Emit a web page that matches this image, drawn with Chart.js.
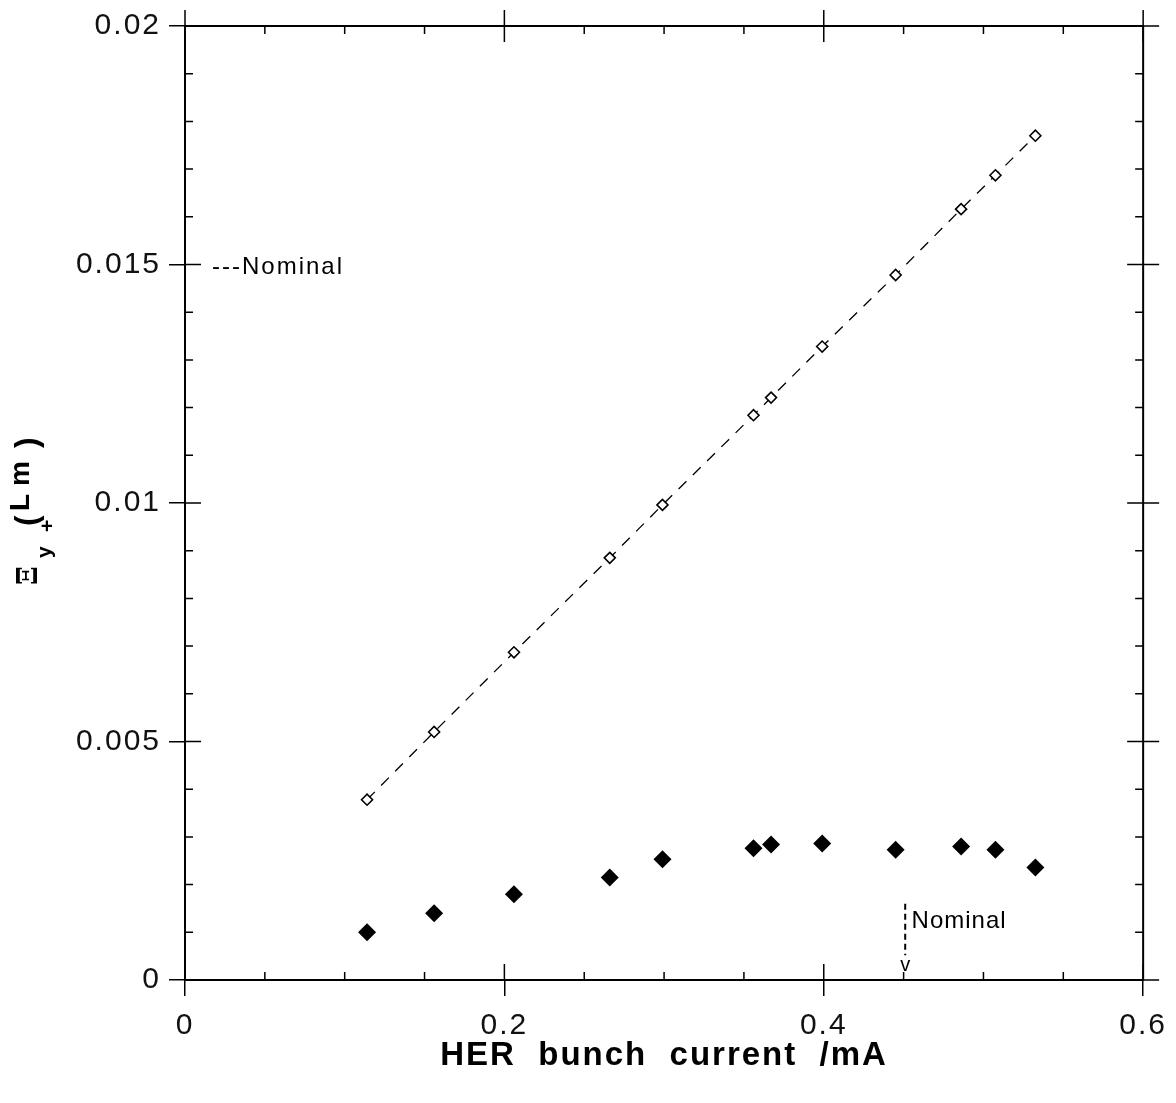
<!DOCTYPE html>
<html><head><meta charset="utf-8">
<script src="https://cdn.jsdelivr.net/npm/chart.js@4.4.0/dist/chart.umd.min.js"></script>
<style>html,body{margin:0;padding:0;background:#fff;}</style>
</head><body>
<canvas id="c" width="1176" height="1103"></canvas>
<script>
// ---- data ----
const currents = [0.114, 0.156, 0.206, 0.266, 0.299, 0.356, 0.367, 0.399, 0.445, 0.486, 0.5075, 0.5325];
const upperValues = [0.00378, 0.0052, 0.00687, 0.00885, 0.00996, 0.01184, 0.01221, 0.01328, 0.01478, 0.01616, 0.01687, 0.0177];
const lowerValues = [0.00100, 0.00140, 0.00180, 0.00215, 0.00253, 0.00276, 0.00284, 0.00286, 0.00273, 0.00280, 0.00273, 0.00236];
const xTickLabels = ['0', '0.2', '0.4', '0.6'];
const yTickLabels = ['0', '0.005', '0.01', '0.015', '0.02'];
const nominalCurrent = [0.451, 0.451];
const nominalArrowY = [0.0016, 0.00052];
const nominalText = 'Nominal';
const nominalLegendText = '---Nominal';
const xTitle = 'HER  bunch  current  /mA';

const toPts = (xs, ys) => xs.map((x, i) => ({x: x, y: ys[i]}));

const framePlugin = {
  id: 'frame',
  beforeDraw(chart) { chart.ctx.letterSpacing = '2px'; },
  afterDraw(chart) {
    const ctx = chart.ctx;
    ctx.save();
    ctx.letterSpacing = '0px';
    const {left, right, top, bottom} = chart.chartArea;
    const xs = chart.scales.x, ys = chart.scales.y;
    ctx.strokeStyle = '#000';
    ctx.lineWidth = 2;
    ctx.beginPath();
    ctx.moveTo(left - 1, top); ctx.lineTo(right, top);
    ctx.moveTo(right, top); ctx.lineTo(right, bottom + 1);
    ctx.stroke();
    ctx.lineWidth = 1.5;
    ctx.beginPath();
    for (let k = 0; k <= 12; k++) {
      const px = xs.getPixelForValue(k * 0.05);
      const major = k % 4 === 0;
      const L = major ? 16 : 8;
      ctx.moveTo(px, bottom); ctx.lineTo(px, bottom - L);
      ctx.moveTo(px, top - (major ? 16 : 0)); ctx.lineTo(px, top + L);
    }
    for (let k = 0; k <= 20; k++) {
      const py = ys.getPixelForValue(k * 0.001);
      const major = k % 5 === 0;
      const L = major ? 16 : 8;
      ctx.moveTo(left, py); ctx.lineTo(left + L, py);
      ctx.moveTo(right + (major ? 16 : 0), py); ctx.lineTo(right - L, py);
    }
    ctx.stroke();

    // annotations
    ctx.fillStyle = '#000';
    ctx.textBaseline = 'middle';
    ctx.textAlign = 'left';
    ctx.letterSpacing = '2px';
    ctx.font = '24px Arial, "Liberation Sans"';
    ctx.fillText(nominalLegendText, xs.getPixelForValue(0) + 27, ys.getPixelForValue(0.015) + 3);
    ctx.letterSpacing = '1px';
    ctx.fillText(nominalText, xs.getPixelForValue(0.455), ys.getPixelForValue(0.00123));
    ctx.letterSpacing = '0px';
    ctx.textAlign = 'center';
    ctx.font = '20px Arial, "Liberation Sans"';
    ctx.fillText('v', xs.getPixelForValue(nominalCurrent[0]), ys.getPixelForValue(0.0003));

    // y-axis title (rotated)
    ctx.translate(0, 585);
    ctx.rotate(-Math.PI / 2);
    ctx.textAlign = 'left';
    ctx.textBaseline = 'alphabetic';
    ctx.font = 'bold 27px "DejaVu Serif", serif';
    ctx.fillText('\u039E', 0, 37);
    ctx.font = 'bold 21px Arial, "Liberation Sans"';
    ctx.fillText('y', 27, 51);
    ctx.fillText('+', 53, 54);
    ctx.font = 'bold 32px Arial, "Liberation Sans"';
    ctx.fillText('(', 59, 37);
    ctx.fillText(')', 137, 37);
    ctx.font = 'bold 28px Arial, "Liberation Sans"';
    ctx.fillText('L', 74, 29);
    ctx.fillText('m', 99, 29);
    ctx.restore();
  }
};

new Chart(document.getElementById('c'), {
  type: 'scatter',
  data: {
    datasets: [
      {
        data: toPts(currents, upperValues),
        showLine: true,
        borderColor: '#000',
        borderWidth: 1.3,
        borderDash: [11, 9],
        pointStyle: 'rectRot',
        pointRadius: 5.5,
        pointBorderWidth: 1.6,
        pointBorderColor: '#000',
        pointBackgroundColor: '#fff'
      },
      {
        data: toPts(currents, lowerValues),
        showLine: false,
        pointStyle: 'rectRot',
        pointRadius: 9,
        pointBorderWidth: 0,
        pointBackgroundColor: '#000',
        pointBorderColor: '#000'
      },
      {
        data: toPts(nominalCurrent, nominalArrowY),
        showLine: true,
        borderColor: '#000',
        borderWidth: 2,
        borderDash: [6, 4],
        pointRadius: 0
      }
    ]
  },
  options: {
    responsive: false,
    animation: false,
    devicePixelRatio: 1,
    layout: {padding: {top: 22, right: 31, left: 0, bottom: 0}},
    plugins: {legend: {display: false}, tooltip: {enabled: false}},
    scales: {
      x: {
        type: 'linear', min: 0, max: 0.6, position: 'bottom',
        ticks: {
          stepSize: 0.2, autoSkip: false, maxRotation: 0, padding: 12,
          callback: (v, i) => xTickLabels[i],
          font: {family: 'Arial, "Liberation Sans"', size: 30}, color: '#111'
        },
        grid: {drawOnChartArea: false, drawTicks: true, tickLength: 16, color: '#000', lineWidth: 1.5},
        border: {display: true, color: '#000', width: 2},
        title: {
          display: true, text: xTitle, color: '#000',
          font: {family: 'Arial, "Liberation Sans"', size: 33, weight: 'bold'},
          padding: {top: 0, bottom: 27}
        },
        afterFit: (s) => { s.height = 123; }
      },
      y: {
        type: 'linear', min: 0, max: 0.02,
        ticks: {
          stepSize: 0.005, autoSkip: false, padding: 8,
          callback: (v, i) => yTickLabels[i],
          font: {family: 'Arial, "Liberation Sans"', size: 30}, color: '#111'
        },
        grid: {drawOnChartArea: false, drawTicks: true, tickLength: 16, color: '#000', lineWidth: 1.5},
        border: {display: true, color: '#000', width: 2},
        afterFit: (s) => { s.width = 185; }
      }
    }
  },
  plugins: [framePlugin]
});
</script>
</body></html>
